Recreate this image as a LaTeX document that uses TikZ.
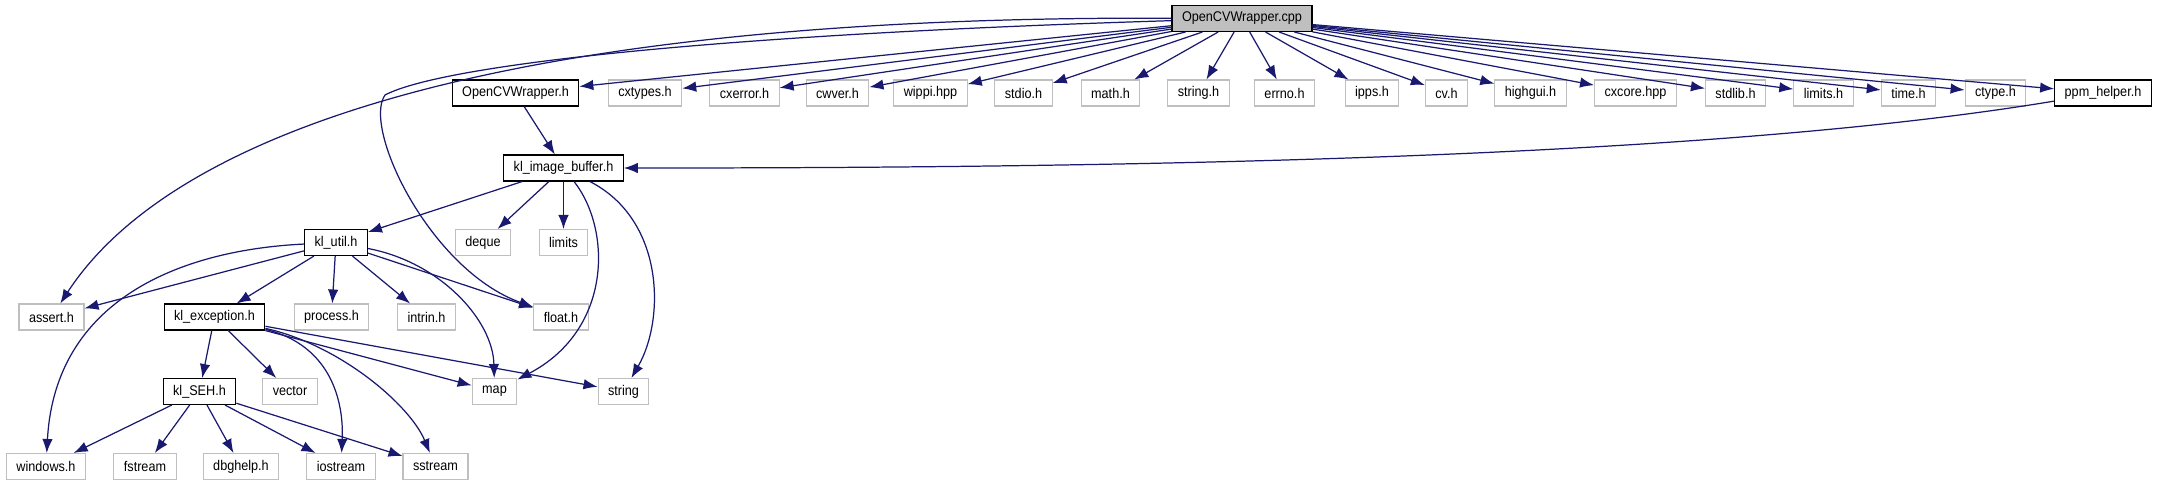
\documentclass[tikz,border=0pt]{standalone}
\usepackage{fontspec}
\setmainfont{Liberation Sans}[FakeStretch=0.9]
\usepackage{xcolor}
\usepackage{tikz}
\usetikzlibrary{arrows.meta}

\definecolor{edgeblue}{RGB}{25,25,112}
\definecolor{framegray}{RGB}{191,191,191}
\definecolor{rootgray}{RGB}{191,191,191}

\begin{document}
\begin{tikzpicture}[
		x=0.02cm, y=-0.02cm,
		font=\fontsize{8pt}{9.6pt}\selectfont,
		hdr/.style={draw=black, line width=0.6pt, fill=white, minimum height=0.52cm, inner xsep=0.2cm, inner ysep=0pt},
		sys/.style={hdr, draw=framegray},
		src/.style={hdr, fill=rootgray},
		inc/.style={draw=edgeblue, line width=0.7pt, -{Latex[length=2.8mm, width=2.1mm]}}
		]
		\useasboundingbox (0,0) rectangle (2157,485);
		% top row
		\node[src] (cpp) at (1242,18.5) {OpenCVWrapper.cpp};
		\node[hdr] (ocvh) at (515.5,93) {OpenCVWrapper.h};
		\node[sys] (cxtypes) at (645,93) {cxtypes.h};
		\node[sys] (cxerror) at (744.5,93) {cxerror.h};
		\node[sys] (cwver) at (837.5,93) {cwver.h};
		\node[sys] (wippi) at (930.5,93) {wippi.hpp};
		\node[sys] (stdio) at (1023.5,93) {stdio.h};
		\node[sys] (mathh) at (1110.5,93) {math.h};
		\node[sys] (stringh) at (1198.5,93) {string.h};
		\node[sys] (errno) at (1284.5,93) {errno.h};
		\node[sys] (ipps) at (1372,93) {ipps.h};
		\node[sys] (cvh) at (1446.5,93) {cv.h};
		\node[sys] (highgui) at (1530.5,93) {highgui.h};
		\node[sys] (cxcore) at (1635.5,93) {cxcore.hpp};
		\node[sys] (stdlib) at (1735.5,93) {stdlib.h};
		\node[sys] (limitsh) at (1823.5,93) {limits.h};
		\node[sys] (timeh) at (1908.5,93) {time.h};
		\node[sys] (ctype) at (1995.5,93) {ctype.h};
		\node[hdr] (ppm) at (2103,93) {ppm\_helper.h};
		% lower rows
		\node[hdr] (kib) at (563.5,168) {kl\_image\_buffer.h};
		\node[hdr] (klutil) at (336,242.5) {kl\_util.h};
		\node[sys] (deque) at (483,242.5) {deque};
		\node[sys] (limits) at (563.5,242.5) {limits};
		\node[sys] (assert) at (51.5,317) {assert.h};
		\node[hdr] (klexc) at (214.5,317) {kl\_exception.h};
		\node[sys] (process) at (331.5,317) {process.h};
		\node[sys] (intrin) at (426.5,317) {intrin.h};
		\node[sys] (floath) at (561,317) {float.h};
		\node[hdr] (klseh) at (199.5,391.5) {kl\_SEH.h};
		\node[sys] (vector) at (290,391.5) {vector};
		\node[sys] (map) at (494.5,391.5) {map};
		\node[sys] (string) at (623.5,391.5) {string};
		\node[sys] (windows) at (46,466.5) {windows.h};
		\node[sys] (fstream) at (145,466.5) {fstream};
		\node[sys] (dbghelp) at (241,466.5) {dbghelp.h};
		\node[sys] (iostream) at (341,466.5) {iostream};
		\node[sys] (sstream) at (435.5,466.5) {sstream};
		% includes of OpenCVWrapper.cpp
		\draw[inc] (cpp) -- (ocvh);
		\draw[inc] (cpp) -- (cxtypes);
		\draw[inc] (cpp) -- (cxerror);
		\draw[inc] (cpp) -- (cwver);
		\draw[inc] (cpp) -- (wippi);
		\draw[inc] (cpp) -- (stdio);
		\draw[inc] (cpp) -- (mathh);
		\draw[inc] (cpp) -- (stringh);
		\draw[inc] (cpp) -- (errno);
		\draw[inc] (cpp) -- (ipps);
		\draw[inc] (cpp) -- (cvh);
		\draw[inc] (cpp) -- (highgui);
		\draw[inc] (cpp) -- (cxcore);
		\draw[inc] (cpp) -- (stdlib);
		\draw[inc] (cpp) -- (limitsh);
		\draw[inc] (cpp) -- (timeh);
		\draw[inc] (cpp) -- (ctype);
		\draw[inc] (cpp) -- (ppm);
		\draw[inc] (cpp) .. controls (450,15) and (160,150) .. (assert);
		\draw[inc] (cpp) .. controls (700,35) and (440,66) .. (385,95) .. controls (362,128) and (430,270) .. (floath);
		% headers
		\draw[inc] (ocvh) -- (kib);
		\draw[inc] (ppm) .. controls (1700,160) and (1100,168) .. (kib);
		\draw[inc] (kib) -- (klutil);
		\draw[inc] (kib) -- (deque);
		\draw[inc] (kib) -- (limits);
		\draw[inc] (kib) .. controls (612,230) and (612,330) .. (map);
		\draw[inc] (kib) .. controls (665,220) and (665,320) .. (string);
		\draw[inc] (klutil) -- (assert);
		\draw[inc] (klutil) .. controls (180,250) and (55,300) .. (windows);
		\draw[inc] (klutil) -- (klexc);
		\draw[inc] (klutil) -- (process);
		\draw[inc] (klutil) -- (intrin);
		\draw[inc] (klutil) -- (floath);
		\draw[inc] (klutil) .. controls (440,262) and (493,320) .. (map);
		\draw[inc] (klexc) -- (klseh);
		\draw[inc] (klexc) -- (vector);
		\draw[inc] (klexc) -- (map);
		\draw[inc] (klexc) -- (string);
		\draw[inc] (klexc) .. controls (330,345) and (344,400) .. (iostream);
		\draw[inc] (klexc) .. controls (340,345) and (410,405) .. (sstream);
		\draw[inc] (klseh) -- (windows);
		\draw[inc] (klseh) -- (fstream);
		\draw[inc] (klseh) -- (dbghelp);
		\draw[inc] (klseh) -- (iostream);
		\draw[inc] (klseh) -- (sstream);
\end{tikzpicture}
\end{document}
